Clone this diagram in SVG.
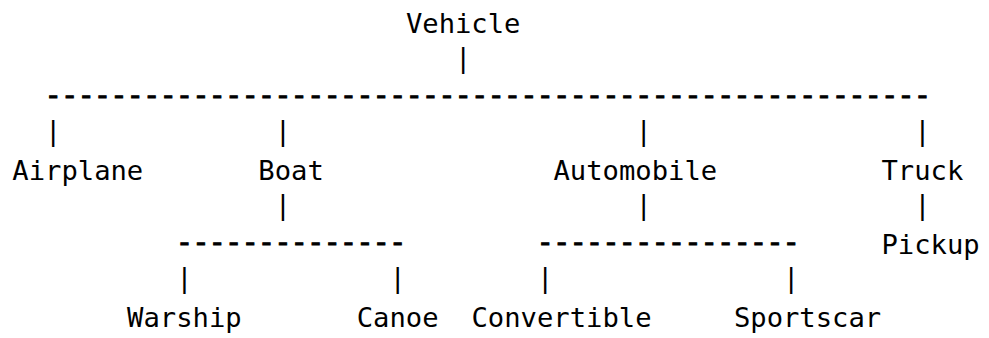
<svg xmlns="http://www.w3.org/2000/svg" width="989" height="338" viewBox="0 0 989 338">
  <style>
    text { font-family: "DejaVu Sans Mono", "Liberation Mono", monospace; font-size: 27.2px; fill: #000; }
    /* rule rows: wider typewriter hyphens, slightly heavier */
    text.rule { font-family: "Liberation Mono", "DejaVu Sans Mono", monospace; font-size: 27.33px; stroke: #000; stroke-width: 0.9px; }
  </style>
  <rect width="989" height="338" fill="#fff"/>

  <!-- tree links drawn as typed characters, one column = 16.4px -->
  <g id="connectors">
    <text x="455.1" y="66.5">|</text>
    <text class="rule" x="45.1" y="104">------------------------------------------------------</text>
    <text x="45.1" y="140.1">|</text>
    <text x="274.7" y="140.1">|</text>
    <text x="635.5" y="140.1">|</text>
    <text x="914.3" y="140.1">|</text>
    <text x="274.7" y="213.7">|</text>
    <text x="635.5" y="213.7">|</text>
    <text x="914.3" y="213.7">|</text>
    <text class="rule" x="176.3" y="251.2">--------------</text>
    <text class="rule" x="537.1" y="251.2">----------------</text>
    <text x="176.3" y="287.3">|</text>
    <text x="389.5" y="287.3">|</text>
    <text x="537.1" y="287.3">|</text>
    <text x="783.1" y="287.3">|</text>
  </g>

  <g id="vehicle"><text x="405.9" y="32.7">Vehicle</text></g>
  <g id="airplane"><text x="12.3" y="179.9">Airplane</text></g>
  <g id="boat"><text x="258.3" y="179.9">Boat</text></g>
  <g id="automobile"><text x="553.5" y="179.9">Automobile</text></g>
  <g id="truck"><text x="881.5" y="179.9">Truck</text></g>
  <g id="pickup"><text x="881.5" y="253.5">Pickup</text></g>
  <g id="warship"><text x="127.1" y="327.1">Warship</text></g>
  <g id="canoe"><text x="356.7" y="327.1">Canoe</text></g>
  <g id="convertible"><text x="471.5" y="327.1">Convertible</text></g>
  <g id="sportscar"><text x="733.9" y="327.1">Sportscar</text></g>
</svg>
